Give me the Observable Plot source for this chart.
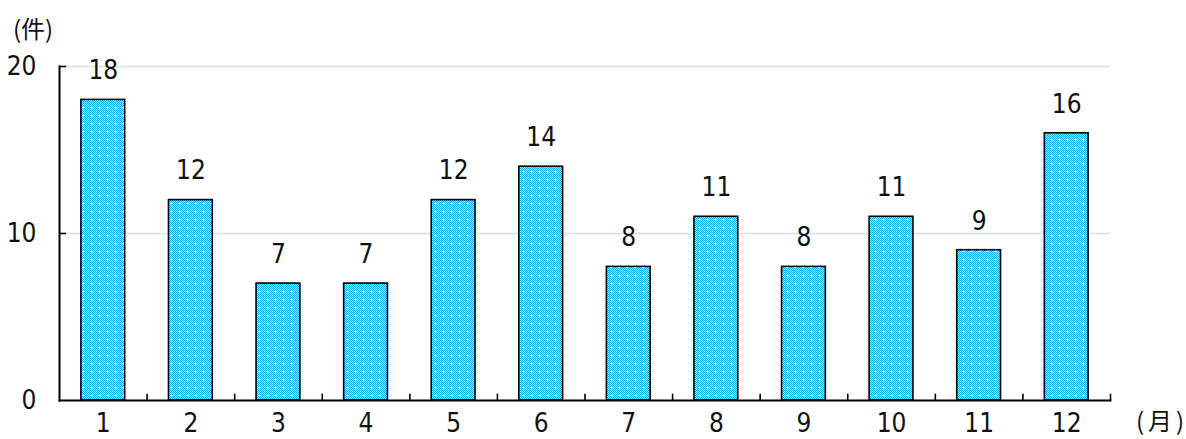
<!DOCTYPE html>
<html><head><meta charset="utf-8">
<script src="https://cdn.jsdelivr.net/npm/d3@7"></script>
<script src="https://cdn.jsdelivr.net/npm/@observablehq/plot@0.6"></script>
<style>
body{margin:0;background:#fff;}
#wrap{position:relative;width:1186px;height:439px;font-family:"Noto Sans CJK JP","Noto Sans",sans-serif;}
.lab{position:absolute;color:#111;white-space:nowrap;line-height:1;}
</style>
</head><body>
<div id="wrap">
<div class="lab" id="yunit" style="left:13px;top:16px;font-size:24px;">(件)</div>
<div class="lab" id="xunit" style="left:1136px;top:408px;font-size:24px;letter-spacing:4px;">(月)</div>
</div>
<script>
const months = [1,2,3,4,5,6,7,8,9,10,11,12];
const counts = [18,12,7,7,12,14,8,11,8,11,9,16];
const yTicks = [0,10,20];
const gridTicks = [10,20];

const data = months.map((m,i)=>({month:m,count:counts[i]}));
const W = 1186, H = 439, mL = 59, mR = 76;
const step = (W - mL - mR) / months.length;
const numFont = "'Liberation Sans Narrow','DejaVu Sans Condensed','Noto Sans',sans-serif";

const chart = Plot.plot({
  width: W, height: H,
  marginLeft: mL, marginRight: mR, marginTop: 66, marginBottom: 39,
  style: {fontFamily: numFont, fontSize: "26px", color: "#111", background: "transparent"},
  x: {domain: months, paddingInner: 0.5, paddingOuter: 0.25, round: false, label: null},
  y: {domain: [0,20], label: null},
  marks: [
    Plot.ruleY(gridTicks, {stroke: "#d8e2ee", strokeWidth: 1.6}),
    Plot.barY(data, {x: "month", y: "count", fill: "url(#dotpat)", stroke: "#000", strokeWidth: 1.6}),
    Plot.text(data, {x: "month", y: "count", text: d => String(d.count), dy: -29, fontSize: 26, fill: "#111"}),
    Plot.axisX({tickSize: 0, tickPadding: 13, fontSize: 26, fill: "#111"}),
    Plot.axisY({ticks: yTicks, tickSize: 0, tickPadding: 23, fontSize: 26, fill: "#111"}),
    Plot.ruleX(months.slice(1), {x: d => d, dx: -step/2, y1: 0, y2: 0.38, stroke: "#000", strokeWidth: 1.6}),
    Plot.ruleX([months[months.length-1]], {x: d => d, dx: step/2, y1: 0, y2: 0.38, stroke: "#000", strokeWidth: 1.6}),
    Plot.tickY(gridTicks, {y: d => d, stroke: "#000", strokeWidth: 1.6, insetRight: (W - mL - mR) - 7}),
    Plot.frame({anchor: "left", stroke: "#000", strokeWidth: 2}),
    Plot.frame({anchor: "bottom", stroke: "#000", strokeWidth: 2})
  ]
});

// pattern definition for bar fill
const ns = "http://www.w3.org/2000/svg";
const svg = chart.tagName.toLowerCase() === "svg" ? chart : chart.querySelector("svg");
const defs = document.createElementNS(ns, "defs");
const pat = document.createElementNS(ns, "pattern");
pat.setAttribute("id", "dotpat");
pat.setAttribute("patternUnits", "userSpaceOnUse");
pat.setAttribute("width", "8"); pat.setAttribute("height", "8");
function rect(x,y,w,h,f){const r=document.createElementNS(ns,"rect");r.setAttribute("x",x);r.setAttribute("y",y);r.setAttribute("width",w);r.setAttribute("height",h);r.setAttribute("fill",f);pat.appendChild(r);}
rect(0,0,8,8,"#a6e4fa");
for(let i=0;i<8;i++)for(let j=0;j<8;j++) if((i+j)%2===0) rect(i,j,1,1,"#00aeef");
rect(3,2,1,3,"#ffffff"); rect(2,3,3,1,"#ffffff");
defs.appendChild(pat);
svg.insertBefore(defs, svg.firstChild);

document.getElementById("wrap").appendChild(chart);
chart.style.position = "absolute"; chart.style.left = "0"; chart.style.top = "0";
</script>
</body></html>
